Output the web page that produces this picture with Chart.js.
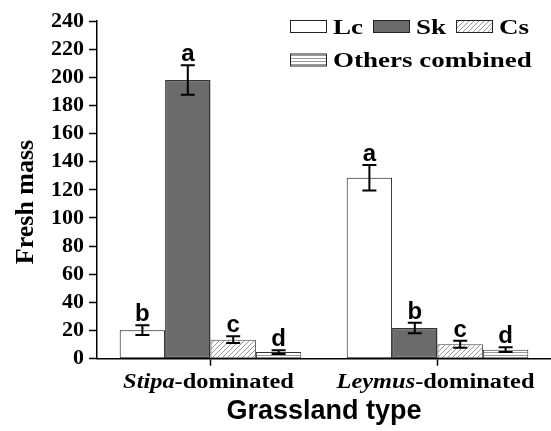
<!DOCTYPE html>
<html>
<head>
<meta charset="utf-8">
<title>Fresh mass by grassland type</title>
<script src="https://cdn.jsdelivr.net/npm/chart.js@4.4.0/dist/chart.umd.min.js"></script>
<style>
  html, body { margin: 0; padding: 0; background: #fff; overflow: hidden; }
  #wrap { width: 551px; height: 431px; }
</style>
</head>
<body>
<div id="wrap"><canvas id="massChart"></canvas></div>
<script>
// values
const categories = ['Stipa-dominated', 'Leymus-dominated'];
const seriesNames = ['Lc', 'Sk', 'Cs', 'Others combined'];
const lcMass = [20.3, 128.6];
const skMass = [198, 21.8];
const csMass = [13.5, 10.2];
const otherMass = [4.7, 6.4];
const lcErr = [3.5, 9];
const skErr = [10.5, 3.8];
const csErr = [2.4, 2.5];
const otherErr = [1.3, 1.7];
const lcLetters = ['b', 'a'];
const skLetters = ['a', 'b'];
const csLetters = ['c', 'c'];
const otherLetters = ['d', 'd'];
const yMin = 0, yMax = 240, yStep = 20;

const serif = "'Liberation Serif', 'Times New Roman', serif";
const sans = "'Liberation Sans', Arial, sans-serif";

// small fill patterns for the hatched bars
function hatch(kind) {
    const c = document.createElement('canvas');
    const g = c.getContext('2d');
    if (kind === 'diag') {
        c.width = 5; c.height = 5;
        g.fillStyle = '#fff';
        g.fillRect(0, 0, 5, 5);
        g.strokeStyle = '#8a8a8a';
        g.lineWidth = 0.9;
        g.beginPath();
        g.moveTo(-1, 6); g.lineTo(6, -1);
        g.moveTo(-3.5, 3.5); g.lineTo(3.5, -3.5);
        g.moveTo(1.5, 8.5); g.lineTo(8.5, 1.5);
        g.stroke();
    } else {
        c.width = 4; c.height = 3;
        g.fillStyle = '#fff';
        g.fillRect(0, 0, 4, 3);
        g.fillStyle = '#999';
        g.fillRect(0, 1, 4, 1);
    }
    return g.createPattern(c, 'repeat');
}

function stretchText(ctx, text, x, y, sx) {
    ctx.save();
    ctx.translate(x, y);
    ctx.scale(sx, 1);
    ctx.fillText(text, 0, 0);
    ctx.restore();
}

// error bars + significance letters
const errorBars = {
    id: 'errorBars',
    afterDatasetsDraw(chart) {
        const ctx = chart.ctx;
        const y = chart.scales.y;
        ctx.save();
        chart.data.datasets.forEach((ds, i) => {
            chart.getDatasetMeta(i).data.forEach((bar, j) => {
                const v = ds.data[j], e = ds.errors[j];
                const top = y.getPixelForValue(v + e);
                const bot = y.getPixelForValue(v - e);
                ctx.strokeStyle = '#000';
                ctx.lineWidth = 2;
                ctx.beginPath();
                ctx.moveTo(bar.x, top); ctx.lineTo(bar.x, bot);
                ctx.moveTo(bar.x - 7, top); ctx.lineTo(bar.x + 7, top);
                ctx.moveTo(bar.x - 7, bot); ctx.lineTo(bar.x + 7, bot);
                ctx.stroke();
                ctx.fillStyle = '#000';
                ctx.font = 'bold 24px ' + sans;
                ctx.textAlign = 'center';
                ctx.textBaseline = 'alphabetic';
                ctx.fillText(ds.letters[j], bar.x, top - 4);
            });
        });
        ctx.restore();
    }
};

// legend in two rows, top right
const boxLegend = {
    id: 'boxLegend',
    afterDraw(chart) {
        const ctx = chart.ctx;
        const rows = [[0, 1, 2], [3]];
        const sx = 1.35;
        ctx.save();
        ctx.font = 'bold 20px ' + serif;
        ctx.textAlign = 'left';
        ctx.textBaseline = 'alphabetic';
        rows.forEach((row, r) => {
            let x = 290;
            const top = 20 + r * 33.5;
            row.forEach(i => {
                const ds = chart.data.datasets[i];
                ctx.fillStyle = ds.backgroundColor;
                ctx.fillRect(x, top, 37, 13);
                ctx.strokeStyle = '#222';
                ctx.lineWidth = 1;
                ctx.strokeRect(x + 0.5, top + 0.5, 36, 12);
                ctx.fillStyle = '#000';
                stretchText(ctx, ds.label, x + 43, top + 13.5, sx);
                x += 43 + ctx.measureText(ds.label).width * sx + 10;
            });
        });
        ctx.restore();
    }
};

// category labels: genus in italic, rest upright
const groupLabels = {
    id: 'groupLabels',
    afterDraw(chart) {
        const ctx = chart.ctx;
        const xs = chart.scales.x;
        const sx = 1.22;
        ctx.save();
        ctx.fillStyle = '#000';
        ctx.textAlign = 'left';
        ctx.textBaseline = 'alphabetic';
        categories.forEach((c, i) => {
            const k = c.indexOf('-');
            const genus = c.slice(0, k), rest = c.slice(k);
            ctx.font = 'italic bold 20px ' + serif;
            const w1 = ctx.measureText(genus).width * sx;
            ctx.font = 'bold 20px ' + serif;
            const w2 = ctx.measureText(rest).width * sx;
            const start = xs.getPixelForTick(i) - 2 - (w1 + w2) / 2;
            ctx.font = 'italic bold 20px ' + serif;
            stretchText(ctx, genus, start, 388, sx);
            ctx.font = 'bold 20px ' + serif;
            stretchText(ctx, rest, start + w1, 388, sx);
        });
        ctx.restore();
    }
};

const yTitle = {
    id: 'yTitle',
    afterDraw(chart) {
        const ctx = chart.ctx;
        ctx.save();
        ctx.translate(33, 202);
        ctx.rotate(-Math.PI / 2);
        ctx.font = 'bold 26px ' + serif;
        ctx.fillStyle = '#000';
        ctx.textAlign = 'center';
        ctx.textBaseline = 'alphabetic';
        ctx.fillText('Fresh mass', 0, 0);
        ctx.restore();
    }
};

new Chart(document.getElementById('massChart'), {
    type: 'bar',
    data: {
        labels: categories,
        datasets: [
            { label: seriesNames[0], data: lcMass, errors: lcErr, letters: lcLetters,
              backgroundColor: '#ffffff', borderColor: '#111', borderWidth: 1 },
            { label: seriesNames[1], data: skMass, errors: skErr, letters: skLetters,
              backgroundColor: '#6b6b6b', borderColor: '#333', borderWidth: 1.5 },
            { label: seriesNames[2], data: csMass, errors: csErr, letters: csLetters,
              backgroundColor: hatch('diag'), borderColor: '#444', borderWidth: 1 },
            { label: seriesNames[3], data: otherMass, errors: otherErr, letters: otherLetters,
              backgroundColor: hatch('horiz'), borderColor: '#333', borderWidth: 1 }
        ]
    },
    options: {
        responsive: true,
        maintainAspectRatio: false,
        animation: false,
        layout: { padding: { top: 21, right: -4, bottom: 0, left: 0 } },
        datasets: { bar: { categoryPercentage: 0.8, barPercentage: 1.0, borderSkipped: false } },
        plugins: { legend: { display: false }, tooltip: { enabled: false } },
        scales: {
            x: {
                grid: { drawOnChartArea: false, offset: false, drawTicks: true, tickLength: 7, tickColor: '#000', tickWidth: 1.5 },
                border: { color: '#000', width: 1.5 },
                ticks: { callback: () => '' },
                title: { display: true, text: 'Grassland type', color: '#000',
                         font: { family: sans, size: 27, weight: 'bold' }, padding: { top: 0, bottom: 3 } },
                afterFit(s) { s.height = 72.3; }
            },
            y: {
                min: yMin,
                max: yMax,
                ticks: { stepSize: yStep, autoSkip: false, color: '#000', padding: 5,
                         font: { family: serif, size: 22, weight: 'bold' } },
                grid: { drawOnChartArea: false, tickLength: 8, tickColor: '#000', tickWidth: 1.5 },
                border: { color: '#000', width: 1.5 },
                afterFit(s) { s.width = 97; s.paddingTop = 0; s.paddingBottom = 0; }
            }
        }
    },
    plugins: [errorBars, boxLegend, groupLabels, yTitle]
});
</script>
</body>
</html>
